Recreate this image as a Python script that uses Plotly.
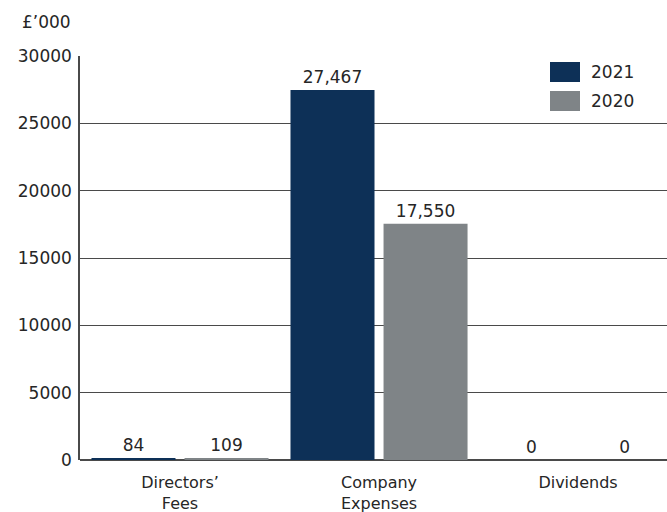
import plotly.graph_objects as go

categories = ["Directors’<br>Fees", "Company<br>Expenses", "Dividends"]
values_2021 = [84, 27467, 0]
values_2020 = [109, 17550, 0]
series_names = ["2021", "2020"]
colors = ["#0d3057", "#7f8487"]
y_ticks = [0, 5000, 10000, 15000, 20000, 25000, 30000]

font_family = "DejaVu Sans, Liberation Sans, sans-serif"
text_color = "#262626"

fig = go.Figure()
for name, vals, col in zip(series_names, [values_2021, values_2020], colors):
    fig.add_trace(go.Bar(
        x=list(range(len(categories))), y=vals, name=name,
        marker=dict(color=col, line=dict(width=0)),
        texttemplate="%{y:,}", textposition="outside",
        textfont=dict(size=17, color=text_color, family=font_family),
        cliponaxis=False, showlegend=False,
    ))

fig.update_layout(
    width=667, height=512,
    margin=dict(l=80, r=0, t=56, b=52),
    paper_bgcolor="white", plot_bgcolor="white",
    barmode="group", bargap=0.065, bargroupgap=0.097,
    font=dict(family=font_family, size=16, color=text_color),
)
fig.update_xaxes(
    range=[-0.5025, 2.447], tickmode="array",
    tickvals=list(range(len(categories))), ticktext=categories,
    showgrid=False, zeroline=False, showline=False,
    ticks="outside", ticklen=8, tickcolor="rgba(0,0,0,0)",
    tickfont=dict(size=16, color=text_color),
)
fig.update_yaxes(
    range=[0, 30000], tickmode="array", tickvals=y_ticks,
    ticktext=[str(v) for v in y_ticks],
    showgrid=True, gridcolor="#4a4a4a", gridwidth=1.4,
    zeroline=True, zerolinecolor="#4a4a4a", zerolinewidth=1.6,
    showline=True, linecolor="#4a4a4a", linewidth=1.5,
    ticks="outside", ticklen=3, tickcolor="rgba(0,0,0,0)",
    tickfont=dict(size=17, color=text_color),
)

# unit label
fig.add_annotation(text="£’000", xref="paper", yref="paper",
                   x=-0.012, y=1.0, yshift=34, xanchor="right", yanchor="middle",
                   showarrow=False, font=dict(size=17, color=text_color))

# custom legend swatches
leg_y = [72, 101]
for name, col, yc in zip(series_names, colors, leg_y):
    fig.add_shape(type="rect", xref="paper", yref="paper",
                  x0=(550 - 80) / 587, x1=(580 - 80) / 587,
                  y0=(460 - (yc + 10)) / 404, y1=(460 - (yc - 10)) / 404,
                  fillcolor=col, line=dict(width=0))
    fig.add_annotation(text=name, xref="paper", yref="paper",
                       x=(589 - 80) / 587, y=(460 - yc) / 404,
                       xanchor="left", yanchor="middle", showarrow=False,
                       font=dict(size=17, color=text_color))

fig.write_html("out.html", config={"displayModeBar": False},
               post_script="document.body.style.margin='0';document.body.style.overflow='hidden';")
